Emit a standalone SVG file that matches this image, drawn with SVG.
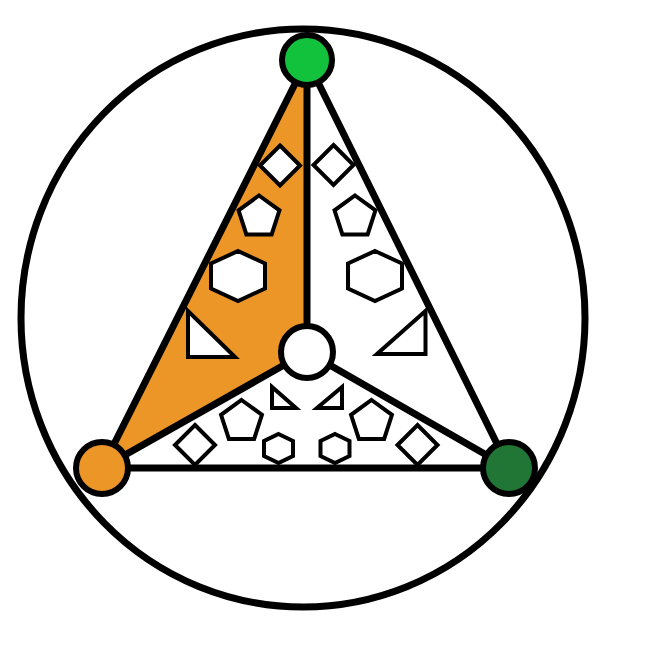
<svg xmlns="http://www.w3.org/2000/svg" xmlns:xlink="http://www.w3.org/1999/xlink" width="650" height="650" viewBox="0 0 650 650">
<style>
.edge{stroke:#000;stroke-width:7;fill:none;stroke-linecap:round}
.node{stroke:#000;stroke-width:6}
.sh{fill:#fff;stroke:#000;stroke-width:4;stroke-linejoin:miter}
</style>
<defs>
<polygon id="dia" points="0,-20 20,0 0,20 -20,0"/>
<polygon id="pent" points="0,-21.5 20.45,-6.64 12.64,17.39 -12.64,17.39 -20.45,-6.64"/>
<polygon id="hexL" points="0,-25 27,-12.5 27,12.5 0,25 -27,12.5 -27,-12.5"/>
<polygon id="hexS" points="0,-14.5 14.5,-7.5 14.5,7.5 0,14.5 -14.5,7.5 -14.5,-7.5"/>
</defs>
<rect width="650" height="650" fill="#fff"/>
<ellipse cx="303" cy="318" rx="282" ry="289" fill="none" stroke="#000" stroke-width="7"/>
<polygon id="orange-face" points="307,60 102,468 307,352" fill="#EC9628"/>
<g id="connectors">
<line class="edge" x1="307" y1="60" x2="102" y2="468"/>
<line class="edge" x1="307" y1="60" x2="509" y2="468"/>
<line class="edge" x1="102" y1="468" x2="509" y2="468"/>
<line class="edge" x1="307" y1="60" x2="307" y2="352"/>
<line class="edge" x1="307" y1="352" x2="102" y2="468"/>
<line class="edge" x1="307" y1="352" x2="509" y2="468"/>
</g>
<g id="shapes">
<use href="#dia" class="sh" x="280" y="165.5"/>
<use href="#pent" class="sh" x="259" y="217"/>
<use href="#hexL" class="sh" x="238" y="276"/>
<polygon class="sh" points="188,311 188,357 235,357"/>
<use href="#dia" class="sh" x="333.5" y="165"/>
<use href="#pent" class="sh" x="355" y="217"/>
<use href="#hexL" class="sh" x="375" y="276"/>
<polygon class="sh" points="425.5,311 425.5,354 377,354"/>
<polygon class="sh" points="272,387 272,408 296,408"/>
<polygon class="sh" points="342,387 342,408 317,408"/>
<use href="#pent" class="sh" x="241.5" y="421.5"/>
<use href="#pent" class="sh" x="371.5" y="421.5"/>
<use href="#dia" class="sh" x="195" y="445"/>
<use href="#dia" class="sh" x="417.5" y="445"/>
<use href="#hexS" class="sh" x="278.5" y="448.5"/>
<use href="#hexS" class="sh" x="335" y="448.5"/>
</g>
<g id="node-top"><circle class="node" cx="307" cy="60" r="25" fill="#12C23C"/></g>
<g id="node-left"><circle class="node" cx="102" cy="468" r="26" fill="#EC9628"/></g>
<g id="node-right"><circle class="node" cx="509" cy="468" r="26" fill="#217535"/></g>
<g id="node-center"><circle class="node" cx="307" cy="352" r="26" fill="#fff"/></g>
</svg>
